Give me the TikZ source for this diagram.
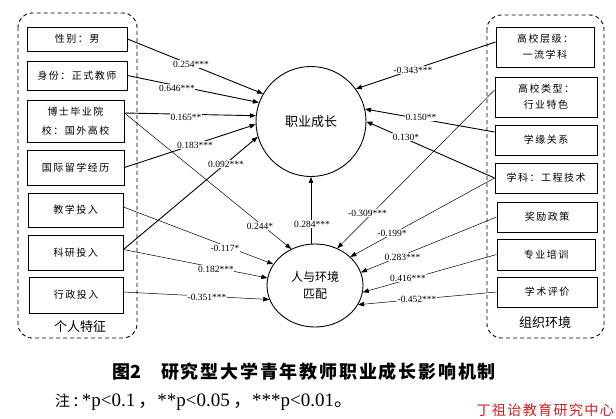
\documentclass[tikz,border=0pt]{standalone}
\usepackage{fontspec}
\setmainfont{Liberation Serif}
\newfontfamily\cjk[LetterSpace=15]{Noto Sans CJK SC}
\newfontfamily\cjkplain{Noto Sans CJK SC}
\usetikzlibrary{arrows.meta,shapes.geometric,calc}
\definecolor{wmred}{RGB}{205,30,30}
\begin{document}
\begin{tikzpicture}[x=1pt,y=-1pt,
  bx/.style={draw, line width=0.9pt, inner sep=0pt, align=center, font=\cjk\fontsize{10}{16}\selectfont},
  grp/.style={line width=0.9pt, dash pattern=on 4pt off 3pt, rounded corners=14pt},
  strong/.style={line width=0.9pt, -{Triangle[length=6pt,width=4.5pt]}},
  weak/.style={line width=0.5pt, -{Triangle[length=6pt,width=4.5pt]}},
  lab/.style={fill=white, inner sep=0.6pt, font=\fontsize{9.5}{10}\selectfont},
  grplab/.style={font=\cjkplain\fontsize{13}{14}\selectfont}]
\useasboundingbox (0,0) rectangle (616,418);
\fill[white] (0,0) rectangle (616,418);

% group frames
\draw[grp] (18,13) rectangle (137,338);
\draw[grp] (487,15) rectangle (604,338);
\node[grplab] (gl) at (80,327) {个人特征};
\node[grplab] (gr) at (545,323) {组织环境};

% left boxes
\node[bx, minimum width=100, minimum height=24] (b1) at (77,39) {性别：男};
\node[bx, minimum width=100, minimum height=29] (b2) at (77,75.5) {身份：正式教师};
\node[bx, minimum width=97, minimum height=42, font=\cjk\fontsize{10}{19}\selectfont] (b3) at (75.5,121) {博士毕业院\\校：国外高校};
\node[bx, minimum width=97, minimum height=35] (b4) at (75.5,167.5) {国际留学经历};
\node[bx, minimum width=95, minimum height=34] (b5) at (75.5,210) {教学投入};
\node[bx, minimum width=95, minimum height=35] (b6) at (75.5,252.5) {科研投入};
\node[bx, minimum width=94, minimum height=36] (b7) at (76,295) {行政投入};

% right boxes
\node[bx, minimum width=98, minimum height=40] (r1) at (545,47) {高校层级：\\一流学科};
\node[bx, minimum width=102, minimum height=40] (r2) at (546,97) {高校类型：\\行业特色};
\node[bx, minimum width=102, minimum height=30] (r3) at (546,140) {学缘关系};
\node[bx, minimum width=102, minimum height=30] (r4) at (546,178) {学科：工程技术};
\node[bx, minimum width=100, minimum height=30] (r5) at (547,217) {奖励政策};
\node[bx, minimum width=98, minimum height=31] (r6) at (546,254.5) {专业培训};
\node[bx, minimum width=100, minimum height=30] (r7) at (547,292) {学术评价};

% latent variables
\node[circle, draw, line width=0.9pt, minimum size=110, font=\cjkplain\fontsize{13}{14}\selectfont] (top) at (311,121.5) {职业成长};
\node[ellipse, draw, line width=0.9pt, minimum width=96, minimum height=83, inner sep=0pt, align=center, font=\cjkplain\fontsize{12}{17}\selectfont] (bot) at (315,285.5) {人与环境\\匹配};

% connectors: left -> top
\draw[strong] (b1.east) -- (top.150);
\draw[strong] (b2.east) -- (top.160);
\draw[strong] ([yshift=8pt]b3.east) -- (top.174);
\draw[strong] (b4.east) -- (top.183.5);
\draw[strong] ([yshift=3pt]b6.east) -- (top.196);
% left -> bottom
\draw[weak] ([yshift=8pt]b3.east) -- (bot.123);
\draw[weak] ([yshift=3pt]b5.east) -- (bot.153);
\draw[weak] ([yshift=3pt]b6.east) -- (bot.171.5);
\draw[weak] ([yshift=3pt]b7.east) -- (bot.197);
% bottom -> top
\draw[strong] (top.south |- bot.north) -- (top.south);
% right -> top
\draw[strong] ([yshift=5pt]r1.west) -- (top.36);
\draw[strong] ([yshift=8pt]r3.west) -- (top.13.8);
\draw[strong] (r4.west) -- (top.0.5);
% right -> bottom
\draw[weak] ([yshift=7pt]r2.west) -- (bot.59);
\draw[weak] (r4.west) -- (bot.39);
\draw[weak] (r5.west) -- (bot.16);
\draw[weak] (r6.west) -- (bot.352);
\draw[weak] (r7.west) -- (bot.336);

% coefficient labels
\node[lab] (l1) at (191,64) {0.254***};
\node[lab] (l2) at (177,88) {0.646***};
\node[lab] (l3) at (186,117) {0.165**};
\node[lab] (l4) at (195,145) {0.183***};
\node[lab] (l5) at (226,164) {0.092***};
\node[lab] (l6) at (260,226) {0.244*};
\node[lab] (l7) at (225,248) {-0.117*};
\node[lab] (l8) at (216,269) {0.182***};
\node[lab] (l9) at (207,297) {-0.351***};
\node[lab] (l10) at (312,224) {0.284***};
\node[lab] (l11) at (413,70) {-0.343***};
\node[lab] (l12) at (421,117) {0.150**};
\node[lab] (l13) at (406,137) {0.130*};
\node[lab] (l14) at (367.5,213) {-0.309***};
\node[lab] (l15) at (392,233) {-0.199*};
\node[lab] (l16) at (402.5,257) {0.283***};
\node[lab] (l17) at (408,278) {0.416***};
\node[lab] (l18) at (417,299) {-0.452***};

% caption and note
\node[anchor=west, inner sep=0pt] (cap) at (112,372) {\cjkplain\bfseries\fontsize{18}{19}\selectfont 图2\hspace{20pt}\addfontfeature{LetterSpace=10}研究型大学青年教师职业成长影响机制};
\node[anchor=west, inner sep=0pt] (note) at (55,402) {\fontsize{19}{20}\selectfont{\cjkplain\fontsize{15}{16}\selectfont 注}\,:\,*p<0.1\,{\cjkplain ，}**p<0.05\,{\cjkplain ，}***p<0.01{\cjkplain 。}};
\node[anchor=east, inner sep=0pt, text=wmred, font=\cjkplain\fontsize{14}{16}\selectfont\addfontfeature{LetterSpace=10}] (wm) at (614,410) {丁祖诒教育研究中心};
\end{tikzpicture}
\end{document}
